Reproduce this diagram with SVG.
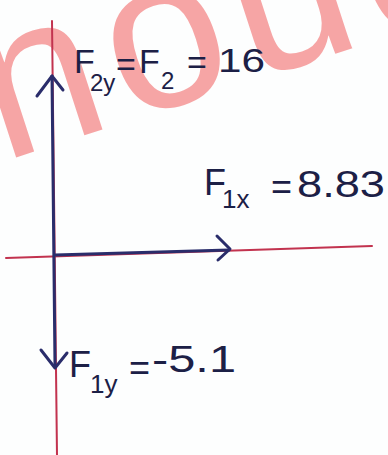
<svg xmlns="http://www.w3.org/2000/svg" width="388" height="455" viewBox="0 0 388 455">
<style>
.ink{fill:#1c2046;font-family:"Liberation Sans",Arial,sans-serif}
.big{font-size:34px}
.sub{font-size:24px}
.axis{stroke:#c2334f;stroke-width:2;fill:none;stroke-linecap:round}
.vec{stroke:#2a2d6b;stroke-width:3;fill:none;stroke-linecap:round;stroke-linejoin:round}
</style>
<rect width="388" height="455" fill="#fdfefe"/>
<g id="watermark">
<text x="2" y="162" transform="rotate(-18 2 162)" font-family="'Liberation Sans',Arial,sans-serif" font-size="215" letter-spacing="12" fill="#ee2222" opacity="0.4">noud</text>
</g>
<g id="axes">
<line class="axis" x1="52" y1="21" x2="57" y2="455"/>
<line class="axis" x1="6" y1="258" x2="372" y2="246"/>
</g>
<g id="connectors">
<line class="vec" x1="52" y1="76" x2="55" y2="366"/>
<line class="vec" x1="55" y1="255" x2="229" y2="250"/>
<polyline class="vec" points="37,96 52,76 63,90"/>
<polyline class="vec" points="41,350 55,368 67,353"/>
<polyline class="vec" points="217,236 230,249 218,260"/>
</g>
<g id="F2y">
<text class="ink big" x="74" y="73">F</text>
<text class="ink sub" x="90" y="91">2y</text>
<text class="ink big" x="116" y="76">=</text>
<text class="ink big" x="139" y="73">F</text>
<text class="ink sub" x="161" y="89">2</text>
<text class="ink big" x="187" y="74">=</text>
<text class="ink big" x="218" y="72" textLength="47" lengthAdjust="spacingAndGlyphs">16</text>
</g>
<g id="F1x">
<text class="ink" font-size="36" x="204" y="195">F</text>
<text class="ink" font-size="26" x="222" y="208">1x</text>
<text class="ink" font-size="36" x="271" y="199">=</text>
<text class="ink" font-size="36" x="297" y="197" textLength="88" lengthAdjust="spacingAndGlyphs">8.83</text>
</g>
<g id="F1y">
<text class="ink" font-size="36" x="69" y="377">F</text>
<text class="ink" font-size="26" x="90" y="393">1y</text>
<text class="ink" font-size="36" x="129" y="380">=</text>
<text class="ink" font-size="36" x="152" y="372" textLength="84" lengthAdjust="spacingAndGlyphs">-5.1</text>
</g>
</svg>
